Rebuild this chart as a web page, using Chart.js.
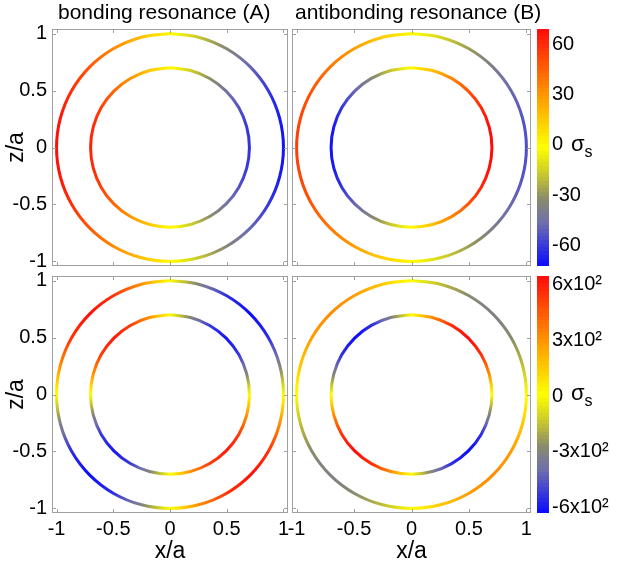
<!DOCTYPE html>
<html>
<head>
<meta charset="utf-8">
<script src="https://cdn.jsdelivr.net/npm/chart.js@4/dist/chart.umd.min.js"></script>
<style>
  body { margin: 0; background: #fff; }
  #wrap { position: relative; width: 617px; height: 568px; overflow: hidden; font-family: "Liberation Sans", Arial, sans-serif; color: #000; }
  #wrap canvas { position: absolute; left: 0; top: 0; }
  .ttl { position: absolute; top: 1px; font-size: 21px; line-height: 21px; white-space: nowrap; }
  .sig { position: absolute; font-size: 22px; line-height: 22px; white-space: nowrap; }
  .sig sub { font-size: 16px; vertical-align: -6px; }
</style>
</head>
<body>
<div id="wrap">
  <canvas id="pA" width="617" height="568"></canvas>
  <canvas id="pB" width="617" height="568"></canvas>
  <canvas id="pC" width="617" height="568"></canvas>
  <canvas id="pD" width="617" height="568"></canvas>
  <canvas id="cbTop" width="617" height="568"></canvas>
  <canvas id="cbBot" width="617" height="568"></canvas>
  <div class="ttl" style="left:58px">bonding resonance (A)</div>
  <div class="ttl" style="left:295px">antibonding resonance (B)</div>
  <div class="sig" style="left:571px;top:133px">σ<sub>s</sub></div>
  <div class="sig" style="left:571px;top:382px">σ<sub>s</sub></div>
</div>
<script>
// angle along each ring (degrees from +x), starting and ending at the top
const ANGLES = [90, 105, 120, 135, 150, 165, 180, 195, 210, 225, 240, 255, 270,
                285, 300, 315, 330, 345, 360, 375, 390, 405, 420, 435, 450];
const RADII = { outer: 1, inner: 0.7 };

// surface charge sigma_s sampled at ANGLES
const bondOuterTop = [0, 18, 34, 48, 59, 66, 68, 66, 59, 48, 34, 18, 0, -18, -35, -49, -61, -68, -70, -68, -61, -49, -35, -18, 0];
const bondInnerTop = [0, 16, 31, 44, 54, 60, 62, 60, 54, 44, 31, 16, 0, -16, -31, -44, -54, -60, -62, -60, -54, -44, -31, -16, 0];
const antiOuterTop = [0, 14, 28, 39, 48, 53, 55, 53, 48, 39, 28, 14, 0, -14, -28, -39, -48, -53, -55, -53, -48, -39, -28, -14, 0];
const antiInnerTop = [0, -18, -35, -49, -61, -68, -70, -68, -61, -49, -35, -18, 0, 18, 35, 49, 61, 68, 69, 68, 61, 49, 35, 18, 0];

const bondOuterBot = [0, 315, 546, 630, 546, 315, 0, -315, -546, -627, -546, -315, 0, 315, 546, 630, 546, 315, 0, -315, -546, -627, -546, -315, 0];
const bondInnerBot = [0, 300, 520, 600, 520, 300, 0, -300, -520, -600, -520, -300, 0, 300, 520, 600, 520, 300, 0, -300, -520, -600, -520, -300, 0];
const antiOuterBot = [0, 160, 277, 320, 277, 160, 0, -160, -277, -320, -277, -160, 0, 160, 277, 320, 277, 160, 0, -160, -277, -320, -277, -160, 0];
const antiInnerBot = [0, -315, -546, -627, -546, -315, 0, 320, 554, 640, 554, 320, 0, -315, -546, -627, -546, -315, 0, 320, 554, 640, 554, 320, 0];

// colour limits and colorbar ticks
const LIM_TOP = [-72, 69];
const LIM_BOT = [-627, 643];
const CB_TICKS_TOP = [-60, -30, 0, 30, 60];
const CB_LABELS_TOP = ['-60', '-30', '0', '30', '60'];
const CB_TICKS_BOT = [-600, -300, 0, 300, 600];
const CB_LABELS_BOT = ['-6x10²', '-3x10²', '0', '3x10²', '6x10²'];

const AXIS_TICKS = [-1, -0.5, 0, 0.5, 1];

// blue - grey - yellow - orange - red
const CMAP = [
  [0.000, [10, 10, 255]],
  [0.180, [110, 110, 175]],
  [0.285, [140, 140, 105]],
  [0.395, [205, 205, 40]],
  [0.500, [255, 255, 0]],
  [0.715, [255, 155, 0]],
  [1.000, [255, 10, 10]]
];

function colour(f) {
  f = Math.max(0, Math.min(1, f));
  for (let i = 1; i < CMAP.length; i++) {
    const [f1, c1] = CMAP[i];
    const [f0, c0] = CMAP[i - 1];
    if (f <= f1) {
      const t = (f - f0) / (f1 - f0);
      const c = c0.map((v, k) => Math.round(v + (c1[k] - v) * t));
      return `rgb(${c[0]},${c[1]},${c[2]})`;
    }
  }
  return 'rgb(255,10,10)';
}

const FONT = { family: '"Liberation Sans", Arial, sans-serif', size: 20 };
const LABEL_FONT = { family: '"Liberation Sans", Arial, sans-serif', size: 23, lineHeight: 1 };
const FRAME = '#a0a0a0';
const Y_W = 46.5;

// box and inward tick marks on all four sides
const framePlugin = {
  id: 'frame',
  afterDraw(chart) {
    const { ctx, chartArea: a, scales: { x, y } } = chart;
    ctx.save();
    ctx.strokeStyle = FRAME;
    ctx.lineWidth = 1;
    ctx.strokeRect(Math.round(a.left) + 0.5, Math.round(a.top) + 0.5,
      Math.round(a.right - a.left) - 1, Math.round(a.bottom - a.top) - 1);
    ctx.beginPath();
    x.ticks.forEach((t, i) => {
      const px = Math.round(x.getPixelForTick(i)) + 0.5;
      ctx.moveTo(px, a.bottom); ctx.lineTo(px, a.bottom - 4);
      ctx.moveTo(px, a.top); ctx.lineTo(px, a.top + 4);
    });
    y.ticks.forEach((t, i) => {
      const py = Math.round(y.getPixelForTick(i)) + 0.5;
      ctx.moveTo(a.left, py); ctx.lineTo(a.left + 4, py);
      ctx.moveTo(a.right, py); ctx.lineTo(a.right - 4, py);
    });
    ctx.stroke();
    ctx.restore();
  }
};

// conic gradient around the ring centre, stops placed at the sample angles
function ringColour(chart, sigma, lim) {
  const { x, y } = chart.scales;
  if (!x || !y) return '#888';
  const cx = x.getPixelForValue(0), cy = y.getPixelForValue(0);
  if (!isFinite(cx) || !isFinite(cy)) return '#888';
  const g = chart.ctx.createConicGradient(0, cx, cy);
  const frac = v => (v - lim[0]) / (lim[1] - lim[0]);
  for (let i = 0; i < ANGLES.length - 1; i++) {
    const a = sigma[i], b = sigma[i + 1];
    for (let k = 0; k <= 4; k++) {
      const deg = ANGLES[i] + (ANGLES[i + 1] - ANGLES[i]) * k / 4;
      const off = (((-deg) % 360) + 360) % 360 / 360;
      const col = colour(frac(a + (b - a) * k / 4));
      g.addColorStop(off, col);
      if (off === 0) g.addColorStop(1, col);
    }
  }
  return g;
}

// tension 0.337 makes the 15-degree bezier pieces follow the circle
function ring(radius, sigma, lim) {
  return {
    data: ANGLES.map(d => ({ x: radius * Math.cos(d * Math.PI / 180), y: radius * Math.sin(d * Math.PI / 180) })),
    tension: 0.337,
    pointRadius: 0,
    borderWidth: 3,
    borderCapStyle: 'butt',
    fill: false,
    borderColor: c => ringColour(c.chart, sigma, lim)
  };
}

function panel(id, box, outer, inner, lim, showY, showX) {
  const xH = showX ? 50.5 : 10;
  new Chart(document.getElementById(id), {
    type: 'line',
    data: { datasets: [ring(RADII.outer, outer, lim), ring(RADII.inner, inner, lim)] },
    options: {
      responsive: false,
      animation: false,
      devicePixelRatio: 1,
      layout: { padding: { left: box.left - Y_W, right: 617 - box.right, top: box.top, bottom: 568 - box.bottom - xH } },
      plugins: { legend: { display: false }, tooltip: { enabled: false } },
      scales: {
        x: {
          type: 'linear', min: -1.04, max: 1.04,
          grid: { display: false, drawTicks: false },
          border: { display: false },
          ticks: { display: showX, padding: 4, font: FONT, color: '#000', maxRotation: 0, autoSkip: false, callback: v => String(v) },
          title: { display: showX, text: 'x/a', font: LABEL_FONT, color: '#000', padding: 0 },
          afterBuildTicks: s => { s.ticks = AXIS_TICKS.map(v => ({ value: v })); },
          afterFit: s => { s.height = xH; }
        },
        y: {
          type: 'linear', min: -1.04, max: 1.04,
          grid: { display: false, drawTicks: false },
          border: { display: false },
          ticks: { display: showY, padding: 5, font: FONT, color: '#000', autoSkip: false, callback: v => String(v) },
          title: { display: showY, text: 'z/a', font: LABEL_FONT, color: '#000', padding: 0 },
          afterBuildTicks: s => { s.ticks = AXIS_TICKS.map(v => ({ value: v })); },
          afterFit: s => { s.width = Y_W; }
        }
      }
    },
    plugins: [framePlugin]
  });
}

function colorbar(id, box, lim, ticks, labels) {
  const bands = 64;
  new Chart(document.getElementById(id), {
    type: 'bar',
    data: {
      labels: ['σs'],
      datasets: [{
        data: [lim],
        barPercentage: 1,
        categoryPercentage: 1,
        borderWidth: 0,
        backgroundColor: c => {
          const a = c.chart.chartArea;
          if (!a) return null;
          const g = c.chart.ctx.createLinearGradient(0, a.bottom, 0, a.top);
          for (let i = 0; i < bands; i++) {
            const col = colour((i + 0.5) / bands);
            g.addColorStop(i / bands, col);
            g.addColorStop((i + 1) / bands, col);
          }
          return g;
        }
      }]
    },
    options: {
      responsive: false,
      animation: false,
      devicePixelRatio: 1,
      layout: { padding: { left: box.left, right: 617 - box.right - 60, top: box.top, bottom: 568 - box.bottom } },
      plugins: { legend: { display: false }, tooltip: { enabled: false } },
      scales: {
        x: { display: false },
        y: {
          position: 'right', min: lim[0], max: lim[1],
          grid: { display: false, drawTicks: false },
          border: { display: false },
          ticks: { padding: 3, font: FONT, color: '#000', autoSkip: false, callback: (v, i) => labels[i] },
          afterBuildTicks: s => { s.ticks = ticks.map(v => ({ value: v })); },
          afterFit: s => { s.width = 60; }
        }
      }
    }
  });
}

const boxA = { left: 52, right: 288, top: 29, bottom: 266 };
const boxB = { left: 292, right: 531, top: 29, bottom: 266 };
const boxC = { left: 52, right: 288, top: 276, bottom: 513 };
const boxD = { left: 292, right: 531, top: 276, bottom: 513 };

panel('pA', boxA, bondOuterTop, bondInnerTop, LIM_TOP, true, false);
panel('pB', boxB, antiOuterTop, antiInnerTop, LIM_TOP, false, false);
panel('pC', boxC, bondOuterBot, bondInnerBot, LIM_BOT, true, true);
panel('pD', boxD, antiOuterBot, antiInnerBot, LIM_BOT, false, true);

colorbar('cbTop', { left: 537, right: 549, top: 29, bottom: 266 }, LIM_TOP, CB_TICKS_TOP, CB_LABELS_TOP);
colorbar('cbBot', { left: 537, right: 549, top: 276, bottom: 513 }, LIM_BOT, CB_TICKS_BOT, CB_LABELS_BOT);
</script>
</body>
</html>
